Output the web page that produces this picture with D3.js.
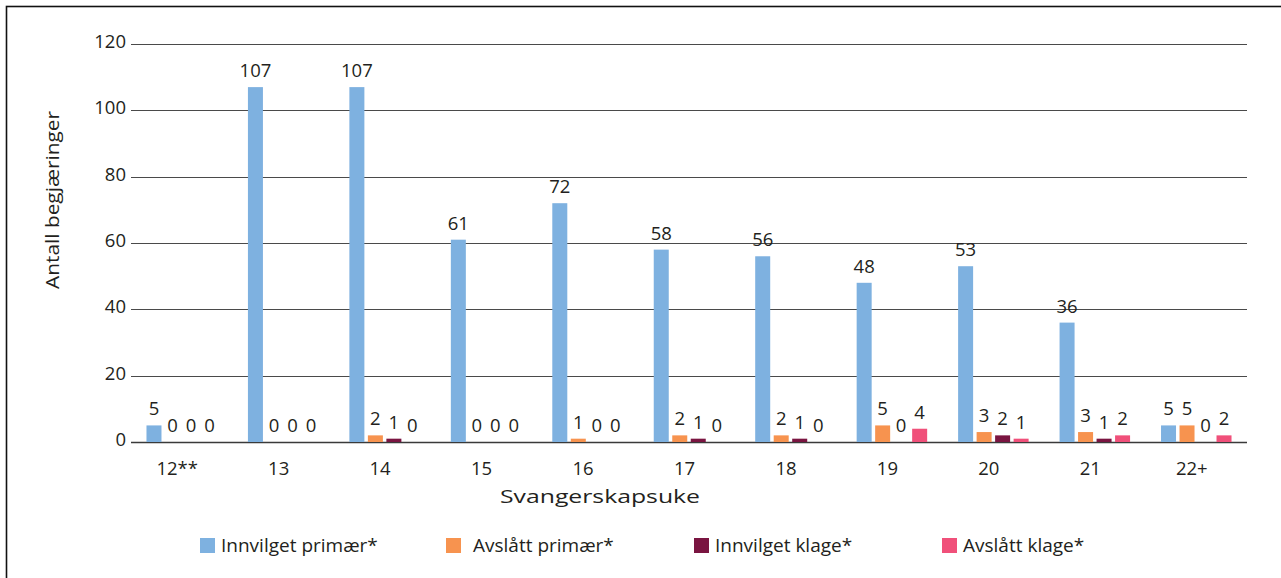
<!DOCTYPE html>
<html>
<head>
<meta charset="utf-8">
<script src="https://cdn.jsdelivr.net/npm/d3@7"></script>
<style>
  html, body { margin: 0; padding: 0; background: #fff; }
  svg { display: block; }
  text { font-family: "Open Sans", "Noto Sans", sans-serif; fill: #231f20; }
</style>
</head>
<body>
<svg id="chart" width="1281" height="578"></svg>
<script>
// Pregnancy week categories
const weeks = ["12**", "13", "14", "15", "16", "17", "18", "19", "20", "21", "22+"];

// Series names (legend order)
const seriesNames = ["Innvilget primær*", "Avslått primær*", "Innvilget klage*", "Avslått klage*"];

// Counts per week for each series
const innvilgetPrimaer = [5, 107, 107, 61, 72, 58, 56, 48, 53, 36, 5];
const avslattPrimaer   = [0, 0, 2, 0, 1, 2, 2, 5, 3, 3, 5];
const innvilgetKlage   = [0, 0, 1, 0, 0, 1, 1, 0, 2, 1, 0];
const avslattKlage     = [0, 0, 0, 0, 0, 0, 0, 4, 1, 2, 2];

const yTicks = [0, 20, 40, 60, 80, 100, 120];

const seriesValues = [innvilgetPrimaer, avslattPrimaer, innvilgetKlage, avslattKlage];
const colors = ["#7eb1e0", "#f7934f", "#7a1541", "#f0507a"];

const svg = d3.select("#chart");

// Outer frame
svg.append("rect")
  .attr("x", 6.5).attr("y", 6.5)
  .attr("width", 1300).attr("height", 600)
  .attr("fill", "none")
  .attr("stroke", "#111")
  .attr("stroke-width", 1.6);

const plot = { left: 131, right: 1247, top: 44, bottom: 442 };

const x0 = d3.scaleBand().domain(weeks).range([plot.left, plot.right]);
const groupSpan = 74;
const x1 = d3.scaleBand().domain(seriesNames).range([0, groupSpan])
  .paddingInner(0.189).paddingOuter(0.0945);
const y = d3.scaleLinear().domain([0, 120]).range([plot.bottom, plot.top]);

// Horizontal gridlines
svg.append("g").selectAll("line")
  .data(yTicks)
  .join("line")
  .attr("x1", plot.left).attr("x2", plot.right)
  .attr("y1", d => Math.round(y(d)) + 0.5)
  .attr("y2", d => Math.round(y(d)) + 0.5)
  .attr("stroke", d => d === 0 ? "#3a3a3a" : "#4a4a4a")
  .attr("stroke-width", d => d === 0 ? 1.4 : 1);

// Y tick labels
svg.append("g").selectAll("text")
  .data(yTicks)
  .join("text")
  .attr("x", 126)
  .attr("y", d => y(d) + 4)
  .attr("text-anchor", "end")
  .attr("font-size", 18.5)
  .text(d => d);

// Y axis title
svg.append("text")
  .attr("transform", "translate(59,200) rotate(-90)")
  .attr("text-anchor", "middle")
  .attr("font-size", 19)
  .attr("textLength", 178)
  .attr("lengthAdjust", "spacingAndGlyphs")
  .text("Antall begjæringer");

// X tick labels
svg.append("g").selectAll("text")
  .data(weeks)
  .join("text")
  .attr("x", d => x0(d) + x0.bandwidth() / 2 - 4.5)
  .attr("y", 475)
  .attr("text-anchor", "middle")
  .attr("font-size", 18.5)
  .text(d => d);

// X axis title
svg.append("text")
  .attr("x", 600).attr("y", 503)
  .attr("text-anchor", "middle")
  .attr("font-size", 19)
  .attr("textLength", 200)
  .attr("lengthAdjust", "spacingAndGlyphs")
  .text("Svangerskapsuke");

// Bars and value labels
const groupOffset = d => x0(d) + x0.bandwidth() / 2 - groupSpan / 2;

const groups = svg.append("g").selectAll("g")
  .data(weeks.map((w, i) => ({ week: w, vals: seriesValues.map((s, k) => ({ name: seriesNames[k], v: s[i], k })) })))
  .join("g")
  .attr("transform", d => `translate(${groupOffset(d.week)},0)`);

groups.selectAll("rect")
  .data(d => d.vals)
  .join("rect")
  .attr("x", d => x1(d.name))
  .attr("width", x1.bandwidth())
  .attr("y", d => y(d.v))
  .attr("height", d => plot.bottom - y(d.v))
  .attr("fill", d => colors[d.k]);

groups.selectAll("text")
  .data(d => d.vals)
  .join("text")
  .attr("x", d => x1(d.name) + x1.bandwidth() / 2)
  .attr("y", d => y(d.v) - 10)
  .attr("text-anchor", "middle")
  .attr("font-size", 18.5)
  .text(d => d.v);

// Legend
const legendX = [200, 446, 694, 942];
const legend = svg.append("g").selectAll("g")
  .data(seriesNames)
  .join("g")
  .attr("transform", (d, i) => `translate(${legendX[i]},538)`);

legend.append("rect")
  .attr("width", 15).attr("height", 15)
  .attr("fill", (d, i) => colors[i]);

legend.append("text")
  .attr("x", (d, i) => i === 1 ? 27 : 21)
  .attr("y", 14)
  .attr("font-size", 19)
  .text(d => d);
</script>
</body>
</html>
